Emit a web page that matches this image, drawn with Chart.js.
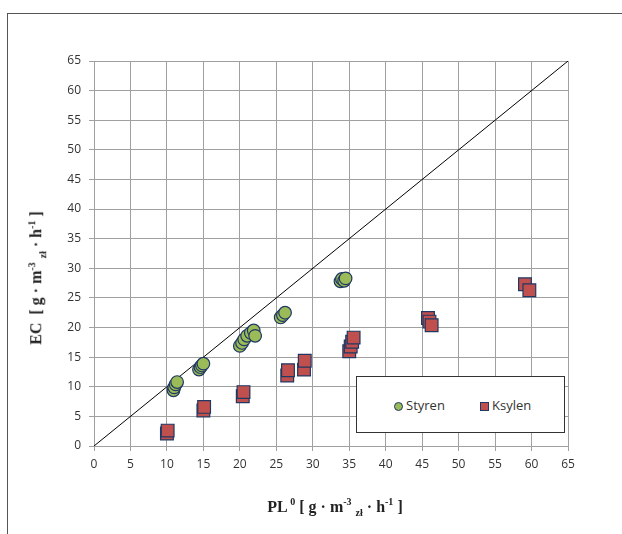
<!DOCTYPE html>
<html lang="pl">
<head>
<meta charset="UTF-8">
<title>EC vs PL0</title>
<script src="https://cdn.jsdelivr.net/npm/chart.js"></script>
<style>
  body { margin: 0; background: #fff; }
  #wrap { position: relative; width: 622px; height: 534px; }
  #frame { position: absolute; left: 7px; top: 13px; right: -2px; bottom: -2px;
           border-left: 1px solid #555; border-top: 1px solid #555; }
  canvas { position: absolute; left: 0; top: 0; }
  .ttl { position: absolute; font-family: "Liberation Serif", serif; font-weight: bold;
         font-size: 16px; color: #222; white-space: nowrap; }
  .ttl sup, .ttl sub { font-size: 10px; }
  #ytitle { left: 37px; top: 278px; transform: translate(-50%, -50%) rotate(-90deg); }
  #xtitle { left: 335px; top: 507px; transform: translate(-50%, -50%); }
  #legend { position: absolute; left: 356px; top: 376px; width: 207px; height: 55px;
            border: 1.5px solid #333; background: #fff;
            font-family: "Open Sans", "Liberation Sans", sans-serif; font-size: 13px; color: #333; }
  .item { position: absolute; top: 19px; line-height: 18px; }
  .mk { display: inline-block; width: 7px; height: 7px; border: 1.2px solid #1f3864;
        vertical-align: -1px; margin-right: 3px; }
</style>
</head>
<body>
<div id="wrap">
  <div id="frame"></div>
  <canvas id="chart" width="622" height="534"></canvas>
  <div class="ttl" id="ytitle">EC&nbsp; [ g · m<sup>-3</sup> <sub>zł</sub> · h<sup>-1</sup> ]</div>
  <div class="ttl" id="xtitle">PL<sup> 0</sup> [ g · m<sup>-3</sup> <sub>zł</sub> · h<sup>-1</sup> ]</div>
  <div id="legend">
    <div class="item" style="left:37px"><span class="mk" style="background:#9bbb59;border-radius:50%"></span>Styren</div>
    <div class="item" style="left:123px"><span class="mk" style="background:#c0504d"></span>Ksylen</div>
  </div>
</div>
<script>
// dane
const styrenX = [10.9, 11.0, 11.2, 11.4, 14.4, 14.6, 14.8, 15.0, 20.0, 20.3, 20.6, 21.0, 21.5, 21.9, 22.1, 25.6, 25.9, 26.2, 33.8, 34.0, 34.3, 34.5];
const styrenY = [9.4, 9.9, 10.4, 10.8, 12.9, 13.3, 13.6, 13.9, 16.9, 17.4, 18.0, 18.6, 19.1, 19.5, 18.6, 21.7, 22.1, 22.5, 27.8, 28.2, 27.9, 28.3];
const ksylenX = [10.0, 10.1, 15.0, 15.1, 20.4, 20.5, 26.5, 26.6, 28.8, 28.9, 35.0, 35.2, 35.4, 35.6, 45.8, 46.0, 46.3, 59.1, 59.7];
const ksylenY = [2.1, 2.6, 6.0, 6.6, 8.4, 9.1, 11.9, 12.8, 12.9, 14.4, 16.0, 16.8, 17.6, 18.3, 21.6, 21.0, 20.4, 27.3, 26.3];
const lineX = [0, 65];
const lineY = [0, 65];

const toPts = (xs, ys) => xs.map((x, i) => ({ x: x, y: ys[i] }));

const ctx = document.getElementById('chart').getContext('2d');
new Chart(ctx, {
  type: 'scatter',
  data: {
    datasets: [
      {
        label: 'Styren',
        data: toPts(styrenX, styrenY),
        pointStyle: 'circle',
        pointRadius: 6.3,
        backgroundColor: '#9bbb59',
        borderColor: '#1f3864',
        borderWidth: 1.2
      },
      {
        label: 'Ksylen',
        data: toPts(ksylenX, ksylenY),
        pointStyle: 'rect',
        pointRadius: 9,
        backgroundColor: '#c0504d',
        borderColor: '#1f3864',
        borderWidth: 1.2
      },
      {
        label: 'y=x',
        data: toPts(lineX, lineY),
        showLine: true,
        pointRadius: 0,
        borderColor: '#000',
        borderWidth: 1
      }
    ]
  },
  options: {
    responsive: false,
    animation: false,
    layout: { padding: { left: 0, top: 61, right: 54, bottom: 0 } },
    plugins: { legend: { display: false }, tooltip: { enabled: false } },
    scales: {
      x: {
        min: 0, max: 65,
        afterFit: s => { s.height = 88; },
        ticks: { stepSize: 5, color: '#333', padding: 6,
                 font: { family: '"Open Sans", "Liberation Sans", sans-serif', size: 12 } },
        grid: { color: '#a0a0a0', lineWidth: 1, tickLength: 5 },
        border: { color: '#a0a0a0' }
      },
      y: {
        min: 0, max: 65,
        afterFit: s => { s.width = 94; },
        ticks: { stepSize: 5, color: '#333', padding: 8,
                 font: { family: '"Open Sans", "Liberation Sans", sans-serif', size: 12 } },
        grid: { color: '#a0a0a0', lineWidth: 1, tickLength: 5 },
        border: { color: '#a0a0a0' }
      }
    }
  }
});
</script>
</body>
</html>
